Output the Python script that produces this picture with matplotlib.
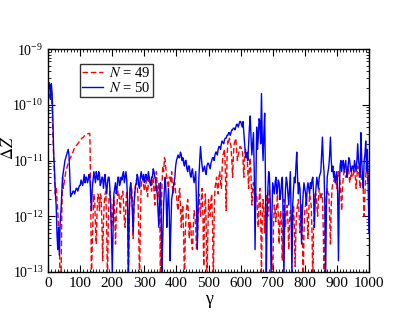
import numpy as np
import matplotlib
matplotlib.use("Agg")
import matplotlib.pyplot as plt
from matplotlib.ticker import MultipleLocator, LogLocator, NullFormatter

plt.rcParams['font.family'] = ['Liberation Serif', 'DejaVu Serif']
plt.rcParams['mathtext.fontset'] = 'stix'

# gamma grid (step 2.5)
gamma = np.arange(0, 1000.1, 2.5)

# log10(Delta Z), N = 50 (blue, solid), one row per 50 in gamma
logdz_50 = [
    -9.75, -9.6, -9.65, -9.9, -9.62, -9.8, -10.3, -10.9, -11.2, -11.6, -11.8, -12.3, -12.6, -12.2, -12.7, -12.1, -11.9, -11.6, -11.3, -11.2,
    -11.1, -11.0, -10.95, -10.9, -10.85, -10.8, -10.9, -11.3, -11.65, -11.6, -11.6, -11.55, -11.55, -11.6, -11.55, -11.5, -11.5, -11.55, -11.5, -11.45,
    -11.45, -11.35, -11.4, -11.45, -11.35, -11.25, -11.4, -11.3, -11.3, -11.4, -11.35, -11.25, -11.3, -11.6, -11.9, -11.5, -11.35, -11.2, -11.3, -11.4,
    -11.2, -11.3, -11.35, -11.2, -11.25, -11.45, -11.4, -11.3, -11.3, -11.5, -11.35, -11.25, -11.45, -11.6, -11.4, -11.3, -11.3, -11.5, -11.8, -12.4,
    -13.0, -12.2, -11.6, -11.5, -11.4, -11.6, -11.5, -11.3, -11.3, -11.45, -11.4, -11.3, -11.35, -11.25, -11.2, -11.4, -11.3, -11.2, -11.35, -11.7,
    -13.1, -12.0, -11.5, -11.4, -11.6, -11.9, -12.3, -11.8, -11.6, -11.45, -11.4, -11.25, -11.3, -11.45, -11.5, -11.3, -11.2, -11.3, -11.35, -11.25,
    -11.4, -11.3, -11.25, -11.35, -11.35, -11.2, -11.3, -11.4, -11.45, -11.3, -11.3, -11.15, -11.2, -11.3, -11.35, -11.5, -11.6, -11.9, -12.2, -11.7,
    -11.4, -12.0, -13.0, -12.3, -11.8, -11.5, -11.3, -11.6, -12.2, -11.8, -11.5, -11.9, -12.8, -12.2, -11.7, -11.6, -11.5, -11.4, -11.3, -11.1,
    -11.0, -10.95, -10.9, -10.95, -10.95, -10.85, -10.9, -11.0, -10.95, -11.05, -11.1, -11.0, -11.0, -11.15, -11.2, -11.1, -11.1, -11.25, -11.3, -11.2,
    -11.15, -11.3, -11.4, -11.3, -11.2, -11.8, -12.6, -11.8, -11.3, -11.0, -10.75, -10.95, -11.1, -11.2, -11.15, -11.1, -11.2, -11.25, -11.1, -11.05,
    -11.05, -11.1, -11.15, -11.05, -11.0, -10.95, -10.95, -11.0, -10.9, -10.85, -10.85, -10.9, -10.8, -10.75, -10.75, -10.8, -10.7, -10.65, -10.68, -10.7,
    -10.62, -10.6, -10.6, -10.55, -10.55, -10.5, -10.5, -10.55, -10.5, -10.45, -10.45, -10.42, -10.42, -10.45, -10.4, -10.35, -10.35, -10.4, -10.35, -10.3,
    -10.3, -10.35, -10.4, -10.3, -10.5, -10.7, -10.9, -10.95, -10.85, -11.0, -10.7, -10.4, -10.2, -10.6, -10.9, -10.7, -10.5, -11.2, -12.6, -11.5,
    -10.4, -10.8, -10.6, -10.25, -10.3, -10.7, -9.8, -10.6, -11.0, -10.5, -10.15, -11.4, -13.1, -12.0, -11.5, -11.2, -11.3, -11.8, -13.1, -12.0,
    -11.4, -11.5, -11.6, -11.4, -11.3, -11.6, -11.5, -11.35, -11.4, -11.7, -11.6, -11.4, -11.3, -12.0, -13.1, -11.9, -11.5, -11.3, -11.4, -11.6,
    -11.8, -11.5, -11.2, -12.0, -13.1, -11.8, -11.5, -11.3, -11.4, -11.1, -10.85, -11.3, -11.6, -11.4, -11.5, -11.9, -12.5, -11.9, -11.6, -11.4,
    -11.5, -11.6, -11.8, -11.5, -11.4, -11.5, -11.6, -11.4, -11.5, -11.35, -11.3, -11.6, -12.2, -11.7, -11.5, -11.3, -11.4, -11.5, -11.3, -11.25,
    -11.2, -10.9, -10.58, -11.0, -11.2, -11.8, -13.1, -11.8, -11.3, -11.2, -11.1, -10.9, -10.58, -11.0, -11.2, -11.1, -11.3, -11.2, -11.4, -11.3,
    -11.2, -11.6, -12.8, -11.6, -11.1, -11.0, -11.2, -11.05, -11.0, -11.2, -11.1, -11.0, -11.2, -11.3, -11.1, -10.95, -11.0, -11.15, -11.2, -11.1,
    -11.1, -11.2, -11.0, -11.1, -11.2, -11.0, -10.7, -11.0, -11.1, -11.3, -10.5, -11.0, -11.3, -11.5, -11.0, -10.9, -10.65, -11.2, -10.8, -11.4,
    -12.3,
]

# log10(Delta Z), N = 49 (red, dashed)
logdz_49 = [
    -9.9, -9.85, -9.8, -9.9, -9.85, -10.1, -10.6, -11.0, -11.3, -11.6, -11.5, -11.7, -11.9, -12.2, -12.5, -13.2, -13.2, -12.0, -11.3, -11.5,
    -11.4, -11.3, -11.2, -11.15, -11.1, -11.05, -11.0, -10.97, -10.95, -10.9, -10.88, -10.85, -10.8, -10.78, -10.75, -10.73, -10.72, -10.7, -10.68, -10.66,
    -10.65, -10.62, -10.6, -10.59, -10.58, -10.56, -10.55, -10.54, -10.53, -10.52, -10.52, -10.51, -10.52, -11.5, -13.2, -12.5, -12.0, -11.6, -11.7, -12.2,
    -12.5, -11.9, -11.6, -11.65, -11.9, -11.6, -11.65, -12.1, -12.8, -12.1, -11.75, -11.6, -11.55, -12.3, -13.2, -12.1, -11.65, -11.55, -11.75, -12.2,
    -12.1, -11.75, -11.65, -11.95, -12.5, -11.95, -11.75, -11.55, -11.55, -11.75, -11.95, -11.65, -11.65, -11.55, -11.75, -12.1, -12.2, -11.75, -11.55, -11.85,
    -13.2, -12.2, -11.65, -11.45, -11.45, -11.75, -12.4, -11.85, -11.55, -11.45, -11.35, -11.45, -11.65, -12.3, -13.2, -12.1, -11.45, -11.35, -11.3, -11.45,
    -11.55, -11.45, -11.35, -11.55, -11.65, -11.35, -11.3, -11.35, -11.45, -11.55, -11.35, -11.3, -11.55, -11.8, -11.3, -11.2, -11.45, -11.7, -11.4, -11.6,
    -13.2, -12.0, -11.4, -11.1, -11.2, -10.95, -11.0, -11.2, -11.3, -11.4, -11.5, -11.3, -11.3, -11.4, -11.2, -11.5, -11.6, -11.4, -11.4, -11.6,
    -11.6, -11.8, -11.9, -11.6, -11.5, -11.8, -12.2, -11.9, -11.8, -12.4, -13.2, -12.3, -12.0, -11.8, -11.7, -12.0, -12.4, -12.1, -12.2, -12.5,
    -12.6, -12.2, -11.9, -12.0, -12.2, -12.6, -12.5, -12.0, -11.6, -11.8, -12.0, -11.7, -11.5, -12.0, -12.9, -12.0, -11.6, -12.1, -13.2, -12.4,
    -11.7, -11.9, -12.0, -11.7, -11.6, -12.2, -13.2, -12.0, -11.5, -11.4, -11.3, -11.5, -11.6, -11.3, -11.2, -11.4, -11.5, -11.1, -10.9, -10.85,
    -10.8, -11.2, -11.9, -11.0, -10.65, -10.7, -10.6, -10.65, -10.75, -11.0, -11.3, -10.9, -10.7, -10.65, -10.6, -10.8, -11.0, -10.9, -10.85, -10.75,
    -10.75, -10.8, -10.8, -11.0, -11.3, -10.9, -10.8, -10.85, -10.9, -11.2, -11.5, -11.1, -10.95, -11.3, -11.8, -11.5, -11.4, -11.6, -11.9, -11.6,
    -11.6, -11.9, -12.2, -11.7, -11.5, -12.0, -13.0, -12.0, -11.7, -11.9, -12.3, -11.8, -11.6, -11.8, -12.0, -11.7, -11.5, -11.9, -12.4, -12.8,
    -13.2, -12.2, -11.8, -11.9, -12.1, -11.8, -11.6, -12.0, -12.5, -12.1, -11.9, -12.2, -12.8, -12.0, -11.7, -11.9, -12.2, -11.9, -11.8, -12.1,
    -12.6, -12.1, -11.9, -12.0, -12.4, -12.0, -11.8, -12.2, -12.9, -12.2, -11.9, -11.8, -11.7, -12.0, -12.3, -12.0, -11.8, -12.3, -13.2, -12.3,
    -11.9, -11.8, -11.7, -12.0, -12.4, -11.9, -11.6, -11.7, -11.8, -12.3, -13.2, -12.2, -11.7, -11.6, -11.6, -11.8, -12.0, -11.7, -11.5, -11.6,
    -11.7, -11.6, -11.6, -12.2, -13.2, -12.2, -11.8, -11.6, -11.5, -11.6, -11.6, -12.0, -12.5, -11.8, -11.5, -11.4, -11.4, -11.3, -11.3, -11.4,
    -11.5, -11.3, -11.2, -11.3, -11.4, -11.6, -11.9, -11.5, -11.3, -11.2, -11.2, -11.3, -11.3, -11.2, -11.1, -11.2, -11.4, -11.3, -11.2, -11.3,
    -11.3, -11.2, -11.2, -11.3, -11.5, -11.3, -11.1, -11.2, -11.3, -11.5, -11.4, -11.3, -11.2, -11.6, -12.0, -11.6, -11.3, -11.1, -11.0, -11.4,
    -11.2,
]

dz_50 = 10.0 ** np.array(logdz_50)
dz_49 = 10.0 ** np.array(logdz_49)

fig = plt.figure(figsize=(4.15, 3.21), dpi=100)
ax = fig.add_axes([0.116, 0.153, 0.773, 0.694])

ax.plot(gamma, dz_49, color='red', lw=1.0, dashes=(4, 2), label=r'$N$ = 49')
ax.plot(gamma, dz_50, color='blue', lw=1.0, label=r'$N$ = 50')

ax.set_yscale('log')
ax.set_xlim(0, 1000)
ax.set_ylim(1e-13, 1e-9)
ax.xaxis.set_major_locator(MultipleLocator(100))
ax.xaxis.set_minor_locator(MultipleLocator(10))
ax.yaxis.set_major_locator(LogLocator(base=10, numticks=10))
ax.yaxis.set_minor_locator(LogLocator(base=10, subs=np.arange(2, 10), numticks=10))
ax.yaxis.set_minor_formatter(NullFormatter())

ax.tick_params(which='both', direction='in', top=True, right=True)
ax.tick_params(axis='x', labelsize=11)
ax.tick_params(axis='y', labelsize=10)
ax.tick_params(which='major', length=5, width=0.8)
ax.tick_params(which='minor', length=2.5, width=0.6)
for s in ax.spines.values():
    s.set_linewidth(1.0)

ax.set_xlabel('γ', fontsize=13, labelpad=1)
ax.set_ylabel(r'$\Delta Z$', fontsize=12)
ax.yaxis.set_label_coords(-0.097, 0.556)

leg = ax.legend(loc='upper left', bbox_to_anchor=(0.1, 0.933), fontsize=10.5,
                frameon=True, fancybox=False, edgecolor='black',
                handlelength=1.4, borderpad=0.15, labelspacing=0.05,
                handletextpad=0.4, borderaxespad=0)
leg.get_frame().set_linewidth(1.0)

fig.savefig('out.png', dpi=100)
